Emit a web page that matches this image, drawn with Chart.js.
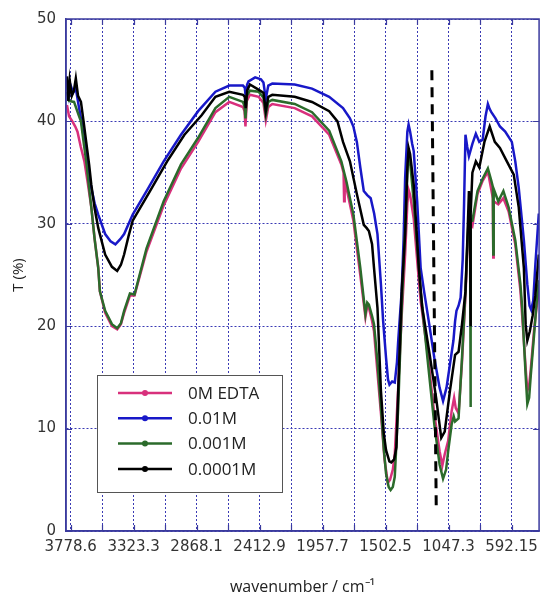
<!DOCTYPE html>
<html>
<head>
<meta charset="utf-8">
<script src="https://cdn.jsdelivr.net/npm/chart.js@4.4.1/dist/chart.umd.min.js"></script>
<style>
  html, body { margin: 0; padding: 0; background: #fff; }
  #wrap { width: 545px; height: 597px; }
</style>
</head>
<body>
<div id="wrap"><canvas id="ftir-chart" width="545" height="597"></canvas></div>
<script>
// tick positions (gridlines every half label step), labels every second one
const xGridTicks = [3778.6, 3551.0, 3323.3, 3095.7, 2868.1, 2640.5, 2412.9, 2185.3, 1957.7, 1730.1, 1502.5, 1274.9, 1047.3, 819.7, 592.15];
const xTickLabels = ['3778.6', '3323.3', '2868.1', '2412.9', '1957.7', '1502.5', '1047.3', '592.15'];
const yTicks = [0, 10, 20, 30, 40, 50];

const seriesNames = ['0M EDTA', '0.01M', '0.001M', '0.0001M'];
const seriesColors = ['#d8307c', '#1818c8', '#2b6b2b', '#000000'];

// 0M EDTA
const pinkW = [3805, 3790, 3766, 3745, 3729, 3705, 3679, 3655, 3629, 3605, 3579, 3567, 3529, 3480, 3442, 3415, 3392, 3350, 3317, 3230, 3106, 2981, 2857, 2732, 2632, 2533, 2522, 2515, 2505, 2483, 2420, 2385, 2368, 2350, 2321, 2159, 2034, 1910, 1822, 1806, 1802, 1798, 1785, 1735, 1685, 1648, 1635, 1623, 1600, 1586, 1561, 1536, 1510, 1486, 1470, 1450, 1436, 1411, 1386, 1361, 1345, 1336, 1325, 1299, 1262, 1249, 1200, 1150, 1112, 1092, 1075, 1050, 1025, 1007, 995, 975, 950, 925, 910, 900, 875, 838, 801, 763, 738, 727, 724, 721, 688, 651, 613, 565, 528, 515, 490, 478, 465, 453, 430, 414, 395];
const pinkT = [41.6, 40.5, 40.0, 39.5, 39.0, 37.5, 36.1, 34.0, 31.6, 28.5, 25.7, 23.4, 21.3, 20.0, 19.7, 20.2, 21.3, 23.0, 23.0, 27.3, 31.8, 35.4, 38.0, 40.9, 41.9, 41.4, 41.0, 39.5, 42.0, 42.6, 42.4, 41.8, 40.1, 41.4, 41.7, 41.3, 40.5, 38.7, 35.8, 35.0, 32.2, 34.6, 33.5, 30.3, 25.0, 20.9, 22.0, 21.8, 20.5, 19.5, 15.5, 11.5, 7.0, 4.7, 5.0, 6.0, 7.5, 14.0, 21.0, 27.0, 32.0, 33.3, 32.8, 30.5, 24.5, 22.5, 17.5, 11.4, 7.8, 6.4, 7.5, 8.8, 11.7, 13.0, 12.0, 11.5, 16.5, 23.0, 28.0, 30.3, 29.8, 32.9, 34.2, 35.1, 33.3, 32.5, 26.7, 32.2, 31.9, 32.5, 31.2, 28.0, 23.5, 21.0, 15.9, 13.7, 14.2, 15.8, 19.5, 21.5, 23.5];

// 0.01M
const blueW = [3805, 3790, 3778, 3760, 3741, 3720, 3700, 3679, 3655, 3629, 3605, 3579, 3529, 3490, 3455, 3420, 3392, 3330, 3230, 3106, 2981, 2857, 2732, 2632, 2533, 2520, 2513, 2503, 2493, 2445, 2403, 2385, 2368, 2350, 2321, 2159, 2034, 1910, 1810, 1760, 1735, 1710, 1685, 1660, 1635, 1610, 1585, 1561, 1536, 1520, 1499, 1485, 1474, 1455, 1436, 1420, 1411, 1386, 1372, 1361, 1345, 1336, 1325, 1310, 1299, 1274, 1249, 1224, 1187, 1150, 1112, 1087, 1062, 1037, 1012, 1000, 990, 975, 960, 945, 935, 925, 912, 900, 875, 850, 825, 801, 780, 763, 750, 738, 708, 676, 638, 590, 565, 540, 503, 478, 462, 450, 435, 420, 395];
const blueT = [44.0, 42.5, 43.5, 42.8, 43.2, 41.5, 40.0, 38.0, 35.8, 33.5, 32.0, 30.9, 29.0, 28.3, 28.0, 28.5, 29.0, 30.9, 33.2, 36.1, 38.7, 41.0, 42.9, 43.5, 43.5, 43.3, 42.4, 43.6, 43.9, 44.3, 44.1, 43.8, 42.2, 43.5, 43.7, 43.6, 43.2, 42.4, 41.3, 40.3, 39.5, 38.0, 35.5, 33.2, 32.8, 32.5, 31.0, 29.0, 24.1, 20.5, 16.9, 14.8, 14.3, 14.6, 14.5, 16.5, 18.6, 23.4, 28.5, 34.5, 39.0, 39.7, 39.0, 37.8, 37.1, 32.2, 25.7, 23.4, 20.2, 16.9, 14.0, 12.7, 14.0, 16.3, 18.6, 20.5, 21.5, 22.0, 22.8, 26.5, 32.0, 38.7, 37.5, 36.6, 37.8, 38.8, 38.0, 38.2, 40.5, 41.7, 41.2, 40.9, 40.3, 39.5, 39.0, 38.0, 36.1, 33.5, 28.4, 24.1, 22.0, 21.6, 22.5, 26.0, 31.0];

// 0.001M
const greenW = [3805, 3790, 3754, 3720, 3704, 3685, 3666, 3645, 3629, 3605, 3579, 3567, 3529, 3480, 3442, 3415, 3392, 3350, 3317, 3230, 3106, 2981, 2857, 2732, 2632, 2533, 2522, 2515, 2505, 2483, 2420, 2385, 2368, 2350, 2321, 2159, 2034, 1910, 1822, 1785, 1735, 1685, 1648, 1635, 1623, 1600, 1586, 1561, 1536, 1515, 1499, 1480, 1466, 1450, 1436, 1411, 1386, 1361, 1345, 1336, 1325, 1299, 1262, 1249, 1200, 1150, 1112, 1087, 1065, 1050, 1025, 1010, 1000, 975, 950, 925, 910, 900, 892, 889, 886, 875, 838, 801, 763, 738, 727, 724, 721, 688, 651, 613, 565, 528, 515, 490, 478, 465, 453, 430, 414, 395];
const greenT = [42.9, 42.0, 41.9, 40.6, 40.0, 38.0, 36.1, 33.5, 31.6, 28.5, 25.7, 23.4, 21.5, 20.2, 19.8, 20.3, 21.5, 23.2, 23.1, 27.6, 32.2, 35.8, 38.4, 41.3, 42.4, 41.9, 41.5, 40.3, 42.5, 43.0, 42.9, 42.3, 40.6, 41.9, 42.1, 41.7, 40.9, 39.1, 36.1, 34.1, 30.9, 25.7, 21.2, 22.3, 22.1, 21.0, 20.2, 16.5, 12.1, 8.0, 5.6, 4.3, 4.0, 4.3, 5.3, 12.1, 21.8, 29.5, 35.0, 36.8, 36.0, 32.2, 25.7, 23.4, 16.9, 10.4, 6.5, 5.1, 6.0, 7.8, 10.4, 11.2, 10.7, 11.0, 16.9, 23.4, 28.5, 30.9, 30.5, 12.1, 30.3, 30.3, 33.2, 34.4, 35.4, 34.2, 33.6, 27.0, 33.4, 32.2, 33.2, 31.6, 28.4, 24.1, 21.8, 15.2, 12.4, 13.0, 15.2, 19.0, 21.8, 24.5];

// 0.0001M
const blackW = [3805, 3795, 3785, 3770, 3755, 3741, 3725, 3704, 3685, 3666, 3645, 3629, 3605, 3579, 3529, 3480, 3442, 3415, 3392, 3360, 3330, 3205, 3081, 2956, 2832, 2732, 2632, 2533, 2520, 2513, 2503, 2483, 2433, 2385, 2368, 2350, 2321, 2159, 2034, 1910, 1850, 1810, 1760, 1710, 1660, 1640, 1623, 1600, 1586, 1561, 1536, 1515, 1499, 1475, 1461, 1440, 1424, 1411, 1386, 1361, 1345, 1336, 1325, 1299, 1262, 1237, 1187, 1137, 1100, 1075, 1037, 1000, 975, 950, 925, 910, 900, 892, 889, 886, 875, 850, 825, 788, 750, 713, 676, 626, 576, 540, 503, 490, 478, 460, 440, 420, 395];
const blackT = [44.4, 42.0, 44.0, 42.5, 43.0, 44.2, 42.5, 41.9, 40.0, 38.0, 35.8, 33.8, 31.5, 29.6, 27.0, 25.8, 25.4, 26.0, 27.0, 28.8, 30.3, 33.2, 36.1, 38.7, 40.6, 42.4, 42.9, 42.6, 42.4, 41.3, 43.0, 43.6, 43.2, 42.8, 41.0, 42.4, 42.6, 42.4, 41.9, 41.0, 40.0, 38.0, 36.1, 32.9, 29.9, 29.6, 29.3, 28.0, 25.7, 21.8, 13.7, 9.5, 7.9, 6.8, 6.7, 7.0, 8.2, 13.7, 23.4, 29.0, 35.5, 37.4, 36.8, 33.8, 25.7, 21.8, 17.5, 13.0, 9.1, 9.7, 13.7, 17.2, 17.5, 20.2, 23.4, 29.0, 33.2, 30.0, 20.0, 31.0, 35.0, 36.1, 35.5, 38.0, 39.5, 38.0, 37.4, 36.1, 34.8, 31.6, 25.7, 20.2, 18.6, 19.5, 21.0, 23.0, 27.0];

// dashed marker line
const markerW = [1168, 1136];
const markerT = [45, 2];

const axisBlue = '#3b3b9e';
const gridBlue = '#3a3ab4';

function toPoints(ws, ts) {
    return ws.map((w, i) => ({ x: w, y: ts[i] }));
}

const seriesData = [
    toPoints(pinkW, pinkT),
    toPoints(blueW, blueT),
    toPoints(greenW, greenT),
    toPoints(blackW, blackT)
];
const drawOrder = [3, 2, 1, 0];

const datasets = seriesNames.map((name, i) => ({
    label: name,
    data: seriesData[i],
    borderColor: seriesColors[i],
    backgroundColor: seriesColors[i],
    borderWidth: 2.5,
    pointRadius: 0,
    tension: 0,
    order: drawOrder[i]
}));
datasets.push({
    label: '',
    data: toPoints(markerW, markerT),
    borderColor: '#000',
    borderWidth: 3,
    borderDash: [10, 7],
    pointRadius: 0,
    order: -1
});

// box round the plot and the small inward ticks
const frameTicks = {
    id: 'frameTicks',
    afterDraw(chart) {
        const { ctx, chartArea: a, scales } = chart;
        ctx.save();
        ctx.strokeStyle = axisBlue;
        ctx.lineWidth = 1.5;
        ctx.strokeRect(a.left, a.top, a.right - a.left, a.bottom - a.top);
        ctx.lineWidth = 1.2;
        ctx.beginPath();
        xGridTicks.forEach(v => {
            const px = Math.round(scales.x.getPixelForValue(v)) + 0.5;
            ctx.moveTo(px, a.bottom); ctx.lineTo(px, a.bottom - 6);
            ctx.moveTo(px, a.top); ctx.lineTo(px, a.top + 6);
        });
        yTicks.forEach(v => {
            const py = Math.round(scales.y.getPixelForValue(v)) + 0.5;
            ctx.moveTo(a.left, py); ctx.lineTo(a.left + 6, py);
            ctx.moveTo(a.right, py); ctx.lineTo(a.right - 6, py);
        });
        ctx.stroke();
        ctx.restore();
    }
};

// legend box inside the plot
const legendBox = {
    id: 'legendBox',
    afterDraw(chart) {
        const ctx = chart.ctx;
        const items = chart.data.datasets.filter(d => d.label);
        const bx = 97, by = 375, bw = 185, bh = 117;
        ctx.save();
        ctx.fillStyle = '#fff';
        ctx.fillRect(bx, by, bw, bh);
        ctx.strokeStyle = '#555';
        ctx.lineWidth = 1;
        ctx.strokeRect(bx + 0.5, by + 0.5, bw, bh);
        items.forEach((d, i) => {
            const y = by + 18 + i * 25.3;
            ctx.strokeStyle = d.borderColor;
            ctx.lineWidth = 2.5;
            ctx.beginPath();
            ctx.moveTo(bx + 21, y);
            ctx.lineTo(bx + 75, y);
            ctx.stroke();
            ctx.fillStyle = d.borderColor;
            ctx.beginPath();
            ctx.arc(bx + 48, y, 3, 0, Math.PI * 2);
            ctx.fill();
            ctx.fillStyle = '#222';
            ctx.font = '17px "Open Sans"';
            ctx.textBaseline = 'middle';
            ctx.fillText(d.label, bx + 91, y + 1);
        });
        ctx.restore();
    }
};

const ctx = document.getElementById('ftir-chart').getContext('2d');
new Chart(ctx, {
    type: 'line',
    data: { datasets: datasets },
    options: {
        responsive: false,
        animation: false,
        layout: { padding: { left: 0, top: 17, right: 4, bottom: 0 } },
        plugins: {
            legend: { display: false },
            tooltip: { enabled: false }
        },
        scales: {
            x: {
                type: 'linear',
                reverse: true,
                min: 393,
                max: 3812,
                afterBuildTicks: function(scale) {
                    scale.ticks = xGridTicks.map(v => ({ value: v }));
                },
                afterFit: function(scale) { scale.height = 66; },
                ticks: {
                    autoSkip: false,
                    maxRotation: 0,
                    padding: 7,
                    color: '#333',
                    font: { family: '"DejaVu Sans"', size: 15 },
                    callback: function(value) {
                        const i = xGridTicks.indexOf(value);
                        return i % 2 === 0 ? xTickLabels[i / 2] : '';
                    }
                },
                grid: { color: gridBlue, lineWidth: 1, drawTicks: false },
                border: { color: axisBlue, width: 1.5, dash: [2, 2] },
                title: {
                    display: true,
                    text: 'wavenumber / cm⁻¹',
                    color: '#222',
                    font: { family: '"Open Sans"', size: 16 },
                    padding: { top: 0, bottom: 0 }
                }
            },
            y: {
                min: 0,
                max: 50,
                afterBuildTicks: function(scale) {
                    scale.ticks = yTicks.map(v => ({ value: v }));
                },
                afterFit: function(scale) { scale.width = 66; },
                ticks: {
                    padding: 10,
                    color: '#333',
                    font: { family: '"DejaVu Sans"', size: 15 }
                },
                grid: { color: gridBlue, lineWidth: 1, drawTicks: false },
                border: { color: axisBlue, width: 1.5, dash: [2, 2] },
                title: {
                    display: true,
                    text: 'T (%)',
                    color: '#222',
                    font: { family: '"Open Sans"', size: 15 },
                    padding: { top: 10, bottom: 0 }
                }
            }
        }
    },
    plugins: [frameTicks, legendBox]
});
</script>
</body>
</html>
